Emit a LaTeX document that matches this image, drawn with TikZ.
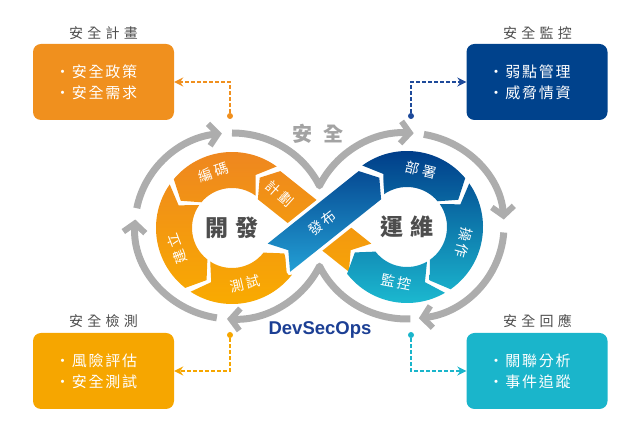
\documentclass[tikz,border=0pt]{standalone}
\usepackage{fontspec}
\setmainfont{Noto Sans CJK TC}
\newfontfamily\cjkT{Noto Sans CJK TC}[LetterSpace=30]
\newfontfamily\cjkB{Noto Sans CJK TC}[LetterSpace=12]
\newfontfamily\cjkL{Noto Sans CJK TC}[LetterSpace=20]
\newfontfamily\cjkC{Noto Sans CJK TC}[LetterSpace=30]
\newfontfamily\cjkS{Noto Sans CJK TC}[LetterSpace=55]
\newfontfamily\devfont{Liberation Sans}
\usetikzlibrary{arrows.meta,calc}

\definecolor{cOrgA}{HTML}{F0901E}
\definecolor{cOrgB}{HTML}{F6A600}
\definecolor{cNavy}{HTML}{00428C}
\definecolor{cNavyL}{HTML}{1E4A9A}
\definecolor{cCyan}{HTML}{1AB5CB}
\definecolor{cGray}{HTML}{ADADAD}
\definecolor{cGrayT}{HTML}{A3A3A3}
\definecolor{cText}{HTML}{4D4D4D}
\definecolor{cDev}{HTML}{1C3F94}
\definecolor{ringTop}{HTML}{EE8620}
\definecolor{ringBot}{HTML}{F9AB00}
\definecolor{blueTop}{HTML}{003C89}
\definecolor{blueBot}{HTML}{1CBBD1}
\definecolor{bandTop}{HTML}{064A93}
\definecolor{bandBot}{HTML}{23A0D5}

\def\Ro{76pt}
\def\Ri{40pt}
\def\Rm{58pt}
\def\dd{12}
% #1 centre, #2 tail angle, #3 head angle, #4 sign of flow
\newcommand{\ringseg}[4]{($(#1)+(#2:\Ro)$) arc[start angle=#2, end angle=#3, radius=\Ro] -- ($(#1)+({#3+(#4)*\dd}:\Rm)$) -- ($(#1)+(#3:\Ri)$) arc[start angle=#3, end angle=#2, radius=\Ri] -- ($(#1)+({#2+(#4)*\dd}:\Rm)$) -- cycle}
\newcommand{\blueband}{(267.7,197.4) -- (358.7,269.9) -- (379.3,263.3) -- (381.1,241.7) -- (290.1,169.2) -- (288.3,190.8) -- cycle}
\newcommand{\orangeband}{(371.3,197.4) -- (280.3,269.9) -- (259.7,263.3) -- (257.9,241.7) -- (348.9,169.2) -- (350.7,190.8) -- cycle}

\begin{document}
\begin{tikzpicture}[x=1pt,y=1pt,
  grayarc/.style={draw=cGray, line width=7pt},
  grayarrow/.style={grayarc, line join=round, -{Straight Barb[length=9pt,width=22pt,line width=6pt]}},
  infobox/.style={rounded corners=8pt, minimum width=141pt, minimum height=76pt, inner sep=0pt},
  boxtitle/.style={text=cText, font=\cjkT\fontsize{14}{14}\selectfont, inner sep=0pt},
  boxtext/.style={text=white, font=\cjkB\fontsize{15}{21}\selectfont, align=left, inner sep=0pt, anchor=west},
  conn/.style={line width=1.5pt, dash pattern=on 3.5pt off 2.5pt, -{Stealth[length=9pt,width=9pt,inset=3pt]}},
  dotmark/.style={circle, inner sep=0pt, minimum size=6pt},
  ringlabel/.style={text=white, font=\cjkL\fontsize{14}{14}\selectfont, inner sep=0pt},
]
\useasboundingbox (0,0) rectangle (640,441);

\coordinate (C1) at (232,213);
\coordinate (C2) at (407,214);
\coordinate (G1) at (232,215);
\coordinate (G2) at (407,215);

% ---------- boxes ----------
\node[infobox, fill=cOrgA] (plan) at (103.5,359) {};
\node[infobox, fill=cNavy] (mon)  at (537,359) {};
\node[infobox, fill=cOrgB] (chk)  at (103.5,70) {};
\node[infobox, fill=cCyan] (resp) at (537,70) {};

\node[boxtitle] (planH) at (103.5,408) {安全計畫};
\node[boxtitle] (monH)  at (537.5,408) {安全監控};
\node[boxtitle] (chkH)  at (103.5,120) {安全檢測};
\node[boxtitle] (respH) at (537.5,120) {安全回應};

\node[boxtext] (planT) at ([xshift=22pt]plan.west) {・安全政策\\・安全需求};
\node[boxtext] (monT)  at ([xshift=22pt]mon.west)  {・弱點管理\\・威脅情資};
\node[boxtext] (chkT)  at ([xshift=22pt]chk.west)  {・風險評估\\・安全測試};
\node[boxtext] (respT) at ([xshift=22pt]resp.west) {・關聯分析\\・事件追蹤};

% ---------- dashed connectors ----------
\node[dotmark, fill=cOrgA]  (dTL) at (230,325) {};
\node[dotmark, fill=cNavyL] (dTR) at (411,325) {};
\node[dotmark, fill=cOrgB]  (dBL) at (230,106) {};
\node[dotmark, fill=cCyan]  (dBR) at (411,106) {};
\draw[conn, cOrgA]  (dTL) |- (plan.east);
\draw[conn, cNavyL] (dTR) |- (mon.west);
\draw[conn, cOrgB]  (dBL) |- (chk.east);
\draw[conn, cCyan]  (dBR) |- (resp.west);

% ---------- gray loops ----------
\draw[grayarrow] ($(G1)+(90:97pt and 93pt)$) arc[start angle=90, end angle=25.6, x radius=97pt, y radius=93pt]
                 arc[start angle=154.4, end angle=86, x radius=97pt, y radius=93pt];
\draw[grayarrow] ($(G2)+(80:97pt and 93pt)$) arc[start angle=80, end angle=4, x radius=97pt, y radius=93pt];
\draw[grayarrow] ($(G2)+(-4:97pt and 93pt)$) arc[start angle=-4, end angle=-83, x radius=97pt, y radius=93pt];
\draw[grayarrow] ($(G2)+(-88:97pt and 93pt)$) arc[start angle=-88, end angle=-154.4, x radius=97pt, y radius=93pt]
                 arc[start angle=-25.6, end angle=-93, x radius=97pt, y radius=93pt];
\draw[grayarrow] ($(G1)+(-99:97pt and 93pt)$) arc[start angle=-99, end angle=-184, x radius=97pt, y radius=93pt];
\draw[grayarrow] ($(G1)+(169:97pt and 93pt)$) arc[start angle=169, end angle=96, x radius=97pt, y radius=93pt];

% ---------- left ring ----------
\begin{scope}\clip \ringseg{C1}{54}{140}{1};
  \shade[top color=ringTop, bottom color=ringBot] (130,135) rectangle (340,292);\end{scope}
\begin{scope}\clip \ringseg{C1}{145}{232}{1};
  \shade[top color=ringTop, bottom color=ringBot] (130,135) rectangle (340,292);\end{scope}
\begin{scope}\clip \ringseg{C1}{237}{322}{1};
  \shade[top color=ringTop, bottom color=ringBot] (130,135) rectangle (340,292);\end{scope}
\begin{scope}\clip \orangeband;
  \shade[top color=ringTop, bottom color=ringBot] (130,135) rectangle (390,292);\end{scope}

% ---------- right ring ----------
\begin{scope}\clip \ringseg{C2}{126}{40}{-1};
  \shade[top color=blueTop, bottom color=blueBot] (300,135) rectangle (510,292);\end{scope}
\begin{scope}\clip \ringseg{C2}{35}{-55}{-1};
  \shade[top color=blueTop, bottom color=blueBot] (300,135) rectangle (510,292);\end{scope}
\begin{scope}\clip \ringseg{C2}{-60}{-142}{-1};
  \shade[top color=blueTop, bottom color=blueBot] (300,135) rectangle (510,292);\end{scope}

% ---------- blue band (on top) ----------
\path[draw=white, fill=white, line width=7pt, line join=round] \blueband;
\begin{scope}\clip \blueband;
  \shade[top color=bandTop, bottom color=bandBot] (260,168) rectangle (385,272);\end{scope}

% ---------- labels ----------
\node[ringlabel, rotate=18]   (lbCode)  at ($(C1)+(108:58.5pt)$) {編碼};
\node[ringlabel, rotate=111]  (lbBuild) at ($(C1)+(201:59pt)$)   {建立};
\node[ringlabel, rotate=13]   (lbTest)  at ($(C1)+(283:57.5pt)$) {測試};
\node[ringlabel, rotate=-42]  (lbPlan)  at (280,247.5) {計劃};
\node[ringlabel, rotate=38.5] (lbRel)   at (322,218) {發布};
\node[ringlabel, rotate=-14]  (lbDep)   at ($(C2)+(76:58.5pt)$)  {部署};
\node[ringlabel, rotate=-105] (lbOp)    at ($(C2)+(-15:59pt)$)   {操作};
\node[ringlabel, rotate=-11]  (lbMon)   at ($(C2)+(-101:56pt)$)  {監控};

\node[text=cText, font=\cjkC\bfseries\fontsize{23}{23}\selectfont, inner sep=0pt] (dev) at (232,213) {開發};
\node[text=cText, font=\cjkC\bfseries\fontsize{23}{23}\selectfont, inner sep=0pt] (ops) at (407,214) {運維};
\node[text=cGrayT, font=\cjkS\bfseries\fontsize{20}{20}\selectfont, inner sep=0pt] (sec) at (318,307) {安全};
\node[text=cDev, font=\devfont\bfseries\fontsize{18.5}{18.5}\selectfont, inner sep=0pt, anchor=base] (dso) at (320,106) {DevSecOps};
\end{tikzpicture}
\end{document}
